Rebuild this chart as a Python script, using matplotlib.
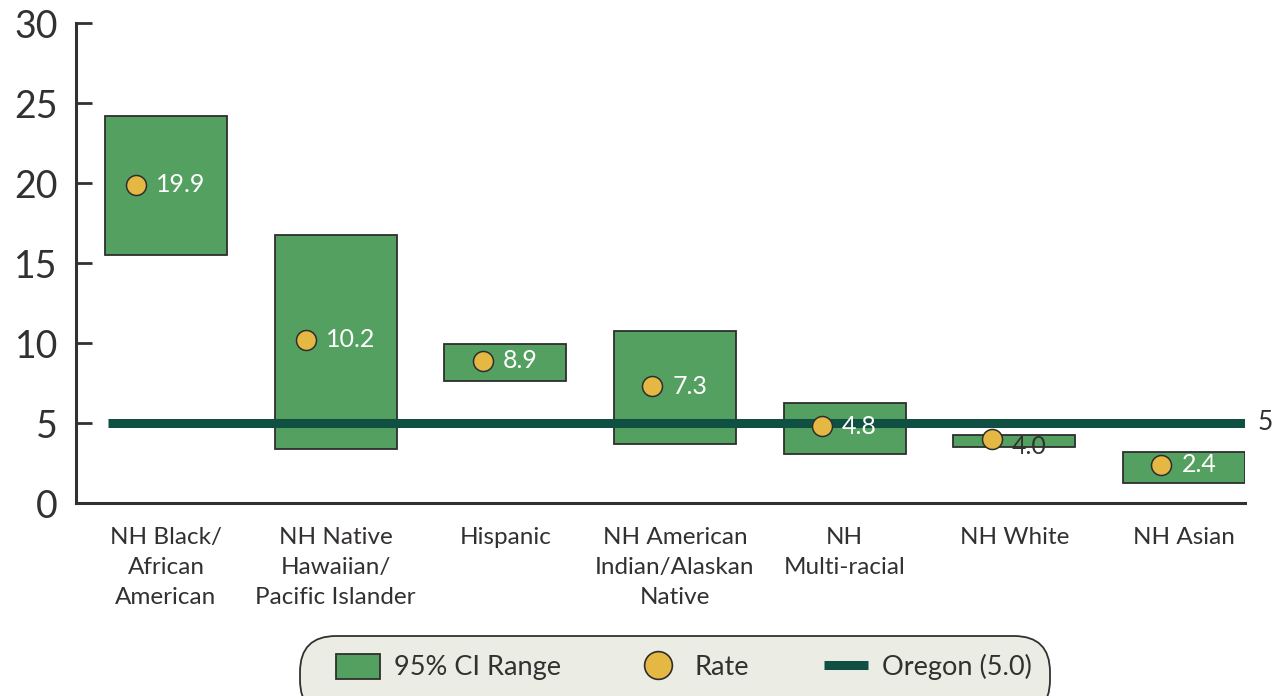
import matplotlib
matplotlib.use("Agg")
import matplotlib.pyplot as plt
from matplotlib.patches import Rectangle, FancyBboxPatch, Patch
from matplotlib.lines import Line2D
from matplotlib.transforms import ScaledTranslation, IdentityTransform

# ---------------- data ----------------
categories = [
    "NH Black/\nAfrican\nAmerican",
    "NH Native\nHawaiian/\nPacific Islander",
    "Hispanic",
    "NH American\nIndian/Alaskan\nNative",
    "NH\nMulti-racial",
    "NH White",
    "NH Asian",
]
rates = [19.9, 10.2, 8.9, 7.3, 4.8, 4.0, 2.4]
ci_low = [15.5, 3.4, 7.6, 3.7, 3.05, 3.5, 1.25]
ci_high = [24.2, 16.75, 9.95, 10.75, 6.25, 4.25, 3.2]
oregon_rate = 5.0
oregon_label = "5"
y_ticks = [0, 5, 10, 15, 20, 25, 30]
legend_labels = ["95% CI Range", "Rate", "Oregon (5.0)"]

# ---------------- style ----------------
FONT = "Lato"
plt.rcParams["font.family"] = [FONT, "DejaVu Sans"]
GREEN = "#54a061"
EDGE = "#2e2e2e"
YELLOW = "#e4b843"
TEAL = "#0f5043"
TXT = "#333030"

W, H, DPI = 1278, 696, 100
fig = plt.figure(figsize=(W / DPI, H / DPI), dpi=DPI)
ax = fig.add_axes([76 / W, 1 - 503 / H, (1245 - 76) / W, (503 - 23) / H])

bar_w = 0.72
xs = list(range(len(categories)))

for x, lo, hi in zip(xs, ci_low, ci_high):
    ax.add_patch(Rectangle((x - bar_w / 2, lo), bar_w, hi - lo,
                           facecolor=GREEN, edgecolor=EDGE, linewidth=1.3, zorder=2))

# Oregon reference line
ax.plot([-0.34, len(categories) - 1 + bar_w / 2], [oregon_rate, oregon_rate],
        color=TEAL, linewidth=6.5, solid_capstyle="butt", zorder=3)
ax.annotate(oregon_label, xy=(len(categories) - 1 + bar_w / 2, oregon_rate),
            xytext=(13, 0), textcoords="offset pixels", ha="left", va="center",
            fontsize=19, color=TXT, annotation_clip=False)

ax.set_xlim(-0.53, len(categories) - 1 + bar_w / 2)
ax.set_ylim(0, 30)

# Rate dots with value labels (dot+label group centered in bar)
renderer = fig.canvas.get_renderer()
dot_d = 20
gap = 10
for x, r, lo, hi in zip(xs, rates, ci_low, ci_high):
    label = f"{r:.1f}"
    inside = (hi - lo) > 1.0
    t = ax.annotate(label, xy=(x, r), xytext=(0, 0), textcoords="offset pixels",
                    ha="left", va="center", fontsize=18,
                    color="white" if inside else TXT, zorder=5)
    tw = t.get_window_extent(renderer).width
    G = dot_d + gap + tw
    dot_off = -G / 2 + dot_d / 2
    txt_off = -G / 2 + dot_d + gap
    t.set_position((txt_off, 0 if inside else -7))
    ax.plot([x], [r], marker="o", markersize=dot_d * 72 / DPI, markerfacecolor=YELLOW,
            markeredgecolor=EDGE, markeredgewidth=1.1, linestyle="none", zorder=4,
            transform=ax.transData + ScaledTranslation(dot_off / DPI, 0, fig.dpi_scale_trans))

# axes styling
for s in ["top", "right"]:
    ax.spines[s].set_visible(False)
for s in ["left", "bottom"]:
    ax.spines[s].set_color(TXT)
    ax.spines[s].set_linewidth(2.2)
ax.set_yticks(y_ticks)
ax.set_yticklabels([str(v) for v in y_ticks])
ax.tick_params(axis="y", direction="in", length=11.5, width=2.0, color=TXT,
               labelsize=27, labelcolor=TXT, pad=13)
ax.set_xticks(xs)
ax.set_xticklabels(categories, linespacing=1.53)
ax.tick_params(axis="x", length=0, labelsize=17.5, labelcolor=TXT, pad=17)

# legend frame (rounded, runs off bottom)
frame = FancyBboxPatch((300, -20), 750, 80,
                       boxstyle="round,pad=0,rounding_size=36",
                       transform=IdentityTransform(), facecolor="#ebede4",
                       edgecolor=TXT, linewidth=1.3, zorder=0)
fig.add_artist(frame)

handles = [
    Patch(facecolor=GREEN, edgecolor=EDGE, linewidth=1.3),
    Line2D([], [], marker="o", linestyle="none", markersize=20, markerfacecolor=YELLOW,
           markeredgecolor=EDGE, markeredgewidth=1.2),
    Line2D([], [], color=TEAL, linewidth=6.5, solid_capstyle="butt"),
]
leg = fig.legend(handles, legend_labels, loc="center", ncol=3,
                 bbox_to_anchor=(684 / W, 29 / H), frameon=False,
                 fontsize=19.5, handlelength=1.6, handleheight=1.05,
                 handletextpad=0.52, columnspacing=2.8, labelcolor=TXT)

fig.savefig("out.png", dpi=DPI)
